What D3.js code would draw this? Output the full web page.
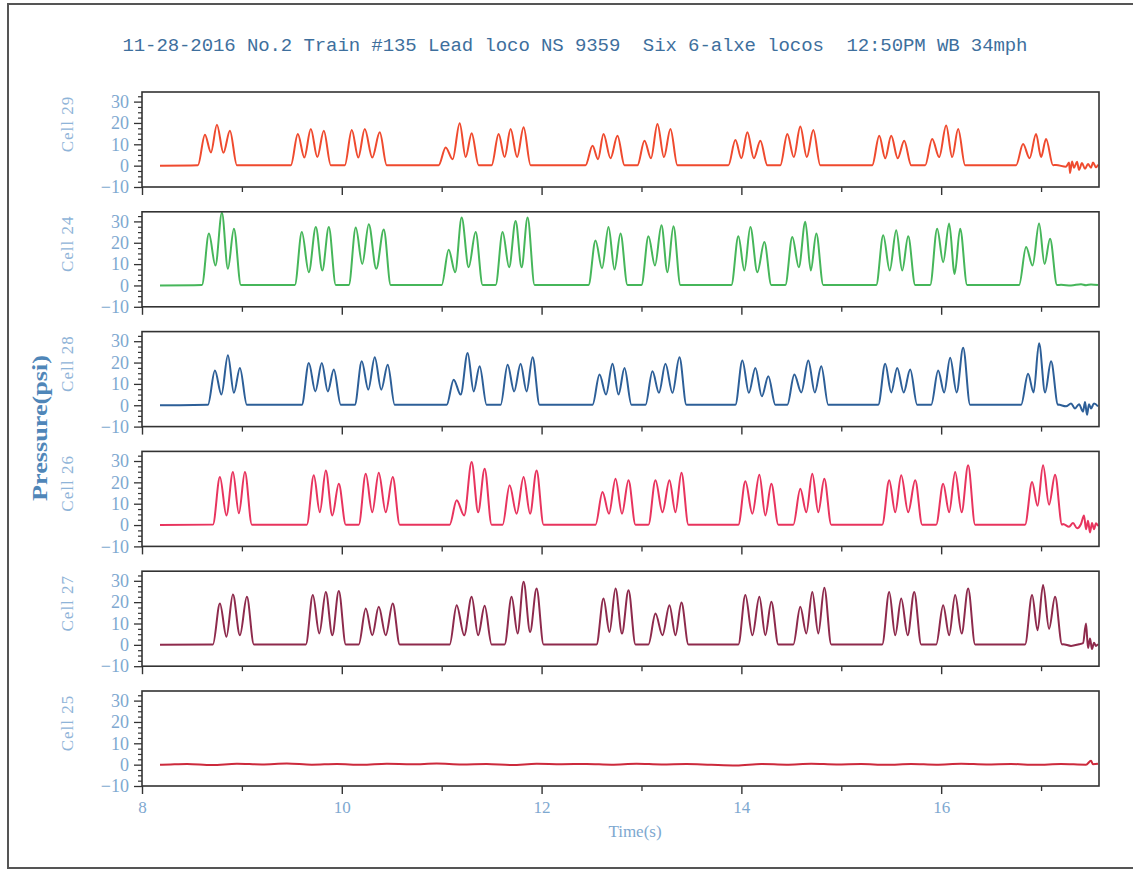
<!DOCTYPE html>
<html>
<head>
<meta charset="utf-8">
<script src="https://cdn.jsdelivr.net/npm/d3@7"></script>
<style>
  html, body { margin: 0; padding: 0; background: #fff; }
  svg { display: block; }
</style>
</head>
<body>
<svg id="chart" width="1133" height="871"></svg>
<script>
// ---------------- DATA ----------------
const titleText = "11-28-2016 No.2 Train #135 Lead loco NS 9359  Six 6-alxe locos  12:50PM WB 34mph";
const cellNames = ["Cell 29", "Cell 24", "Cell 28", "Cell 26", "Cell 27", "Cell 25"];
const xTicks = [8, 10, 12, 14, 16];
const yTicks = [-10, 0, 10, 20, 30];
const xAxisTitle = "Time(s)";
const yAxisTitle = "Pressure(psi)";

// Each triplet (one truck, 3 axles): [t1, peak1, valley1, t2, peak2, valley2, t3, peak3]
const cell29 = [
  [8.63,14.5,6.2, 8.75,19.2,6.0, 8.88,16.4],
  [9.56,14.8,3.8, 9.69,17.2,4.0, 9.82,16.4],
  [10.10,16.7,3.8, 10.23,17.2,3.8, 10.38,15.6],
  [11.04,8.5,3.0, 11.18,19.9,4.0, 11.30,15.2],
  [11.57,14.8,4.0, 11.69,17.2,4.0, 11.82,18.0],
  [12.51,9.3,3.0, 12.62,14.8,3.5, 12.76,14.0],
  [13.03,11.7,3.5, 13.16,19.5,4.0, 13.29,17.2],
  [13.94,12.0,3.5, 14.06,15.6,3.5, 14.19,11.7],
  [14.46,14.8,4.0, 14.59,18.3,4.0, 14.72,16.7],
  [15.38,14.0,3.5, 15.50,14.0,3.5, 15.63,11.7],
  [15.91,12.5,4.0, 16.05,18.8,4.0, 16.17,17.2],
  [16.82,10.1,3.5, 16.95,14.8,4.0, 17.05,12.5]
];
const cell24 = [
  [8.67,24.3,9.3, 8.80,34.0,7.8, 8.92,26.6],
  [9.60,25.0,6.2, 9.74,27.4,7.0, 9.87,27.4],
  [10.14,27.1,10.0, 10.27,28.7,7.8, 10.42,26.2],
  [11.07,16.7,6.2, 11.20,31.8,8.5, 11.34,25.0],
  [11.61,25.0,8.5, 11.74,30.2,8.5, 11.86,31.8],
  [12.54,21.1,8.0, 12.67,27.4,7.5, 12.79,24.3],
  [13.07,23.0,9.3, 13.20,28.2,6.2, 13.32,27.7],
  [13.97,23.0,7.0, 14.09,27.4,6.2, 14.23,20.3],
  [14.51,22.7,8.5, 14.64,29.8,7.0, 14.75,24.3],
  [15.42,23.5,7.0, 15.55,25.8,7.0, 15.67,23.0],
  [15.96,26.6,10.9, 16.08,29.0,5.4, 16.19,26.6],
  [16.85,18.0,9.3, 16.98,29.0,10.0, 17.09,21.9]
];
const cell28 = [
  [8.73,16.3,5.0, 8.86,23.4,5.8, 8.98,17.5],
  [9.67,19.8,6.5, 9.80,19.8,6.5, 9.92,16.7],
  [10.20,20.6,7.3, 10.33,22.5,7.3, 10.46,19.0],
  [11.12,12.0,5.0, 11.26,24.5,6.5, 11.38,18.3],
  [11.66,19.0,6.5, 11.79,19.4,6.5, 11.91,22.5],
  [12.58,14.4,5.0, 12.71,19.4,5.0, 12.83,17.5],
  [13.11,15.9,5.8, 13.24,19.4,5.8, 13.38,22.5],
  [14.01,21.0,5.8, 14.14,17.5,4.2, 14.27,13.6],
  [14.53,14.4,6.0, 14.67,21.0,6.0, 14.80,18.3],
  [15.44,19.4,6.0, 15.56,17.5,6.0, 15.69,16.7],
  [15.97,16.3,6.0, 16.09,22.2,6.0, 16.22,26.9],
  [16.87,14.7,6.0, 16.98,29.0,6.0, 17.10,20.6]
];
const cell26 = [
  [8.78,22.5,4.5, 8.91,24.8,5.5, 9.03,24.8],
  [9.72,23.3,6.0, 9.84,25.6,4.5, 9.97,19.4],
  [10.24,24.0,6.0, 10.37,24.5,6.0, 10.51,22.5],
  [11.15,11.6,4.5, 11.30,29.5,6.0, 11.43,26.4],
  [11.68,18.6,5.3, 11.82,22.5,5.3, 11.95,25.6],
  [12.61,15.5,5.3, 12.74,21.7,5.3, 12.87,21.0],
  [13.14,21.0,6.0, 13.28,21.0,6.0, 13.40,24.5],
  [14.04,20.5,5.3, 14.18,23.6,4.5, 14.30,19.4],
  [14.59,17.0,6.0, 14.71,24.0,6.0, 14.83,21.7],
  [15.48,21.0,6.0, 15.60,23.3,6.0, 15.74,21.0],
  [16.02,19.4,6.0, 16.14,24.8,6.0, 16.27,28.0],
  [16.91,20.2,9.0, 17.02,28.0,9.5, 17.14,23.6]
];
const cell27 = [
  [8.78,19.4,3.8, 8.91,23.6,4.5, 9.05,22.5],
  [9.71,23.3,5.3, 9.84,24.8,4.5, 9.97,25.2],
  [10.24,17.0,4.5, 10.37,17.8,4.5, 10.51,19.4],
  [11.15,18.6,4.5, 11.30,22.5,4.5, 11.43,18.3],
  [11.70,22.5,5.3, 11.82,29.5,6.0, 11.95,26.4],
  [12.62,21.7,6.0, 12.74,26.4,5.3, 12.87,25.6],
  [13.14,14.7,4.5, 13.28,18.6,4.5, 13.40,19.8],
  [14.04,23.3,4.5, 14.18,22.5,4.5, 14.30,20.2],
  [14.59,17.8,5.3, 14.71,24.8,5.3, 14.83,26.7],
  [15.48,24.8,4.5, 15.60,21.7,4.5, 15.73,24.8],
  [16.02,18.6,4.5, 16.14,23.3,5.3, 16.27,26.4],
  [16.91,23.3,6.8, 17.02,28.0,7.5, 17.14,22.5]
];
const cell25 = []; // no axle peaks recorded on this cell

// Trailing signal (after the last axle), [time, psi]
const tail29 = [[17.15,0.3],[17.25,-0.5],[17.28,1.5],[17.29,-3.5],[17.31,2],[17.33,-1],[17.36,1.8],[17.38,-2],[17.41,1.2],[17.44,-1.5],[17.47,0.8],[17.50,-1],[17.52,1.5],[17.55,-0.8],[17.57,0.5]];
const tail24 = [[17.20,0.3],[17.30,0.0],[17.40,0.6],[17.45,0.1],[17.50,0.5],[17.57,0.2]];
const tail28 = [[17.17,0.3],[17.25,-0.5],[17.30,0.8],[17.34,-1.5],[17.38,0.5],[17.42,-3],[17.44,1.5],[17.46,-4.5],[17.48,0.5],[17.50,-1.5],[17.53,0.8],[17.57,-0.5]];
const tail26 = [[17.22,0.5],[17.28,-0.8],[17.32,1],[17.36,-1.5],[17.40,0.5],[17.43,4.5],[17.45,-2],[17.47,2],[17.49,-3.5],[17.51,1],[17.53,-2],[17.55,0.8],[17.57,-0.5]];
const tail27 = [[17.22,0.3],[17.30,-0.5],[17.38,0.3],[17.42,0.8],[17.45,10],[17.47,-1.5],[17.49,3],[17.51,-2],[17.53,1],[17.55,-0.5],[17.57,0.3]];
const trace25 = [[8.20,0.0],[8.45,0.3],[8.70,-0.2],[8.95,0.4],[9.20,0.1],[9.45,0.5],[9.70,0.0],[9.95,0.3],[10.20,-0.1],[10.45,0.4],[10.70,0.2],[10.95,0.5],[11.20,0.1],[11.45,0.3],[11.70,-0.2],[11.95,0.4],[12.20,0.2],[12.45,0.3],[12.70,0.0],[12.95,0.4],[13.20,0.1],[13.45,0.3],[13.70,-0.1],[13.95,-0.4],[14.20,0.3],[14.45,0.0],[14.70,0.4],[14.95,0.1],[15.20,0.3],[15.45,-0.1],[15.70,0.3],[15.95,0.0],[16.20,0.4],[16.45,0.1],[16.70,0.3],[16.95,-0.1],[17.20,0.3],[17.45,0.0],[17.50,1.8],[17.52,0.2],[17.57,0.4]];

const seriesTriplets = [cell29, cell24, cell28, cell26, cell27, cell25];
const seriesTails = [tail29, tail24, tail28, tail26, tail27, trace25];

// ---------------- STYLE ----------------
const lineColors = ["#ef4a2e", "#46b65a", "#2d5f98", "#e8345e", "#8e2a4c", "#cc2a3c"];
const tickColor = "#7ea8d0";
const labelColor = "#8fb4d8";

// ---------------- LAYOUT ----------------
const plotLeft = 142, plotRight = 1099;
const panelH = 95, panelTop0 = 92, panelStep = 119.8;
const startT = 8.18;

const svg = d3.select("#chart");

// outer frame (scanned page border)
svg.append("path")
  .attr("d", `M1133,4 L8,4 L8,868 L1133,868`)
  .attr("fill", "none").attr("stroke", "#555").attr("stroke-width", 2);

svg.append("text")
  .attr("x", 575).attr("y", 51)
  .attr("text-anchor", "middle")
  .attr("font-family", "Liberation Mono, monospace")
  .attr("font-size", 19)
  .attr("fill", "#3e6f9d")
  .attr("textLength", 905)
  .attr("lengthAdjust", "spacing")
  .style("white-space", "pre")
  .text(titleText);

const x = d3.scaleLinear().domain([8, 17.58]).range([plotLeft, plotRight]);

function buildTrace(trips, tail) {
  const pts = [[startT, 0]];
  trips.forEach(r => {
    const [t1, p1, v1, t2, p2, v2, t3, p3] = r;
    pts.push([t1 - 0.07, 0.2], [t1, p1], [(t1 + t2) / 2, v1], [t2, p2], [(t2 + t3) / 2, v2], [t3, p3], [t3 + 0.07, 0.2]);
  });
  tail.forEach(p => pts.push(p));
  return pts;
}

const fontSerif = "Liberation Serif, 'DejaVu Serif', serif";

cellNames.forEach((name, i) => {
  const top = panelTop0 + i * panelStep;
  const y = d3.scaleLinear().domain([-10, 34.5]).range([top + panelH, top]);
  const g = svg.append("g");

  const clipId = "clip" + i;
  svg.append("clipPath").attr("id", clipId)
    .append("rect").attr("x", plotLeft).attr("y", top).attr("width", plotRight - plotLeft).attr("height", panelH);

  // trace
  const pts = buildTrace(seriesTriplets[i], seriesTails[i]);
  g.append("path")
    .datum(pts)
    .attr("clip-path", `url(#${clipId})`)
    .attr("fill", "none")
    .attr("stroke", lineColors[i])
    .attr("stroke-width", 2)
    .attr("stroke-linejoin", "round")
    .attr("d", d3.line().curve(d3.curveMonotoneX).x(d => x(d[0])).y(d => y(d[1])));

  // frame
  g.append("rect")
    .attr("x", plotLeft).attr("y", top)
    .attr("width", plotRight - plotLeft).attr("height", panelH)
    .attr("fill", "none").attr("stroke", "#333").attr("stroke-width", 1.6);

  // y axis minor
  const yMinor = d3.range(-10, 34.5, 2.5).filter(v => v % 10 !== 0);
  g.append("g").attr("transform", `translate(${plotLeft},0)`)
    .call(d3.axisLeft(y).tickValues(yMinor).tickSize(4).tickFormat(""))
    .call(a => a.select(".domain").remove())
    .call(a => a.selectAll("line").attr("stroke", "#333").attr("stroke-width", 1.2));
  // y axis major
  g.append("g").attr("transform", `translate(${plotLeft},0)`)
    .call(d3.axisLeft(y).tickValues(yTicks).tickSize(8).tickPadding(5).tickFormat(d => d < 0 ? "\u2212" + Math.abs(d) : d))
    .call(a => a.select(".domain").remove())
    .call(a => a.selectAll("line").attr("stroke", "#333").attr("stroke-width", 1.3))
    .call(a => a.selectAll("text").attr("fill", tickColor).attr("font-size", 18).attr("font-family", fontSerif));

  // x axis ticks (bottom of each panel)
  const xMinor = [9, 11, 13, 15, 17];
  g.append("g").attr("transform", `translate(0,${top + panelH})`)
    .call(d3.axisBottom(x).tickValues(xMinor).tickSize(5).tickFormat(""))
    .call(a => a.select(".domain").remove())
    .call(a => a.selectAll("line").attr("stroke", "#333").attr("stroke-width", 1.3));
  const isLast = i === cellNames.length - 1;
  g.append("g").attr("transform", `translate(0,${top + panelH})`)
    .call(d3.axisBottom(x).tickValues(xTicks).tickSize(8).tickPadding(7).tickFormat(isLast ? d3.format("d") : ""))
    .call(a => a.select(".domain").remove())
    .call(a => a.selectAll("line").attr("stroke", "#333").attr("stroke-width", 1.4))
    .call(a => a.selectAll("text").attr("fill", tickColor).attr("font-size", 17).attr("font-family", fontSerif));

  // cell label
  svg.append("text")
    .attr("transform", `translate(73,${top + 32}) rotate(-90)`)
    .attr("text-anchor", "middle")
    .attr("font-family", fontSerif)
    .attr("font-size", 17)
    .attr("letter-spacing", 1)
    .attr("fill", labelColor)
    .text(name);
});

// axis titles
svg.append("text")
  .attr("x", 635).attr("y", 837)
  .attr("text-anchor", "middle")
  .attr("font-family", fontSerif)
  .attr("font-size", 17)
  .attr("fill", tickColor)
  .text(xAxisTitle);

svg.append("text")
  .attr("transform", `translate(47,428) rotate(-90)`)
  .attr("text-anchor", "middle")
  .attr("font-family", fontSerif)
  .attr("font-weight", "bold")
  .attr("font-size", 21)
  .attr("textLength", 146)
  .attr("lengthAdjust", "spacingAndGlyphs")
  .attr("fill", "#4f86b8")
  .text(yAxisTitle);
</script>
</body>
</html>
